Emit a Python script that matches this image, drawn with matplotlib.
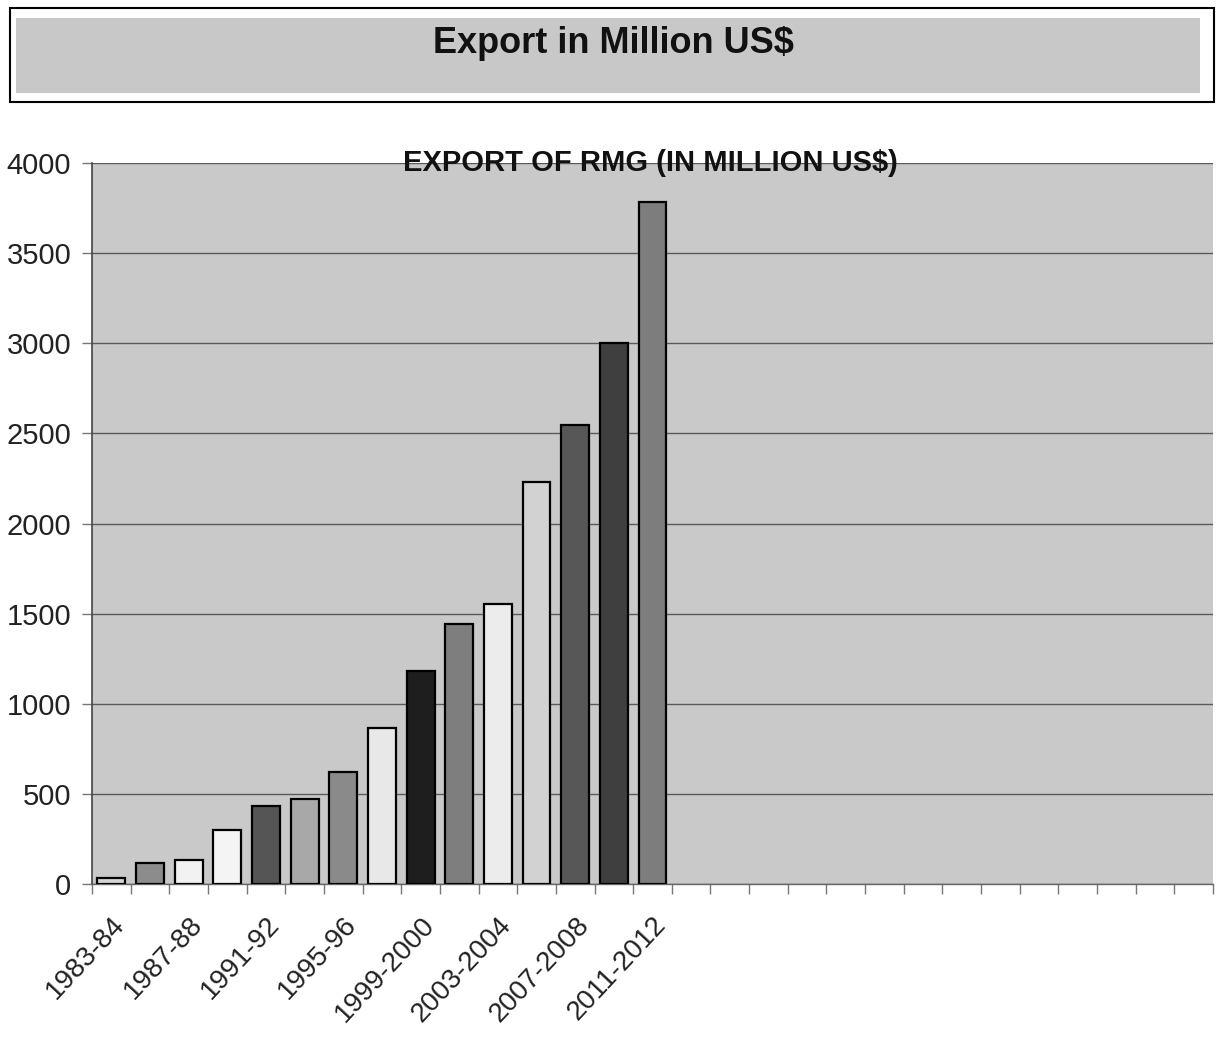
import numpy as np
from matplotlib import pyplot as plt
from matplotlib.patches import Rectangle

# RMG export, million US$
periods = ['1983-84', '1985-86', '1987-88', '1989-90', '1991-92', '1993-94',
           '1995-96', '1997-98', '1999-2000', '2001-2002', '2003-2004',
           '2005-2006', '2007-2008', '2009-2010', '2011-2012']
values = [32, 116, 131, 299, 434, 471, 624, 867, 1183, 1445, 1556, 2228, 2547, 3001, 3782]
bar_colors = ['#d6d6d6', '#8c8c8c', '#f2f2f2', '#f4f4f4', '#555555', '#a8a8a8',
              '#8a8a8a', '#e8e8e8', '#1e1e1e', '#7e7e7e', '#ececec', '#d2d2d2',
              '#575757', '#3f3f3f', '#7d7d7d']
n_slots = 29  # the category axis runs on past the data (empty slots)
yticks = list(range(0, 4001, 500))

plt.rcParams['font.family'] = ['Liberation Sans', 'DejaVu Sans']

fig = plt.figure(figsize=(12.24, 10.45), dpi=100)
fig.patch.set_facecolor('white')

# heading box
fig.patches.append(Rectangle((0.0082, 0.9024), 0.9837, 0.090, transform=fig.transFigure,
                             facecolor='white', edgecolor='black', linewidth=1.5))
fig.patches.append(Rectangle((0.0131, 0.911), 0.967, 0.0718, transform=fig.transFigure,
                             facecolor='#c8c8c8', edgecolor='none'))
fig.text(0.5008, 0.958, 'Export in Million US$', ha='center', va='center',
         fontsize=26, fontweight='bold', color='#111111')

ax = fig.add_axes([0.0752, 0.154, 0.9158, 0.690])
ax.set_facecolor('#c9c9c9')

x = np.arange(len(values))
ax.bar(x, values, width=0.72, color=bar_colors, edgecolor='black', linewidth=1.6, zorder=3)

ax.set_xlim(-0.5, n_slots - 0.5)
ax.set_ylim(0, 4000)
ax.set_yticks(yticks)
ax.yaxis.grid(True, color='#5a5a5a', linewidth=1.0, zorder=1)

ax.set_xticks(x[::2])
ax.set_xticklabels(periods[::2], rotation=47, ha='right', va='top', rotation_mode='anchor')
ax.set_xticks(np.arange(n_slots + 1) - 0.5, minor=True)
ax.tick_params(axis='x', which='major', length=0, pad=20, labelsize=20, labelcolor='#222222')
ax.tick_params(axis='x', which='minor', length=7, color='#777777', width=1)
ax.tick_params(axis='y', length=7, width=1, color='#777777', pad=8, labelsize=21,
               labelcolor='#222222')

for side in ['top', 'right']:
    ax.spines[side].set_visible(False)
ax.spines['left'].set_color('#444444')
ax.spines['left'].set_linewidth(1.2)
ax.spines['bottom'].set_color('#666666')
ax.spines['bottom'].set_linewidth(1.0)

ax.text(0.498, 1.0, 'EXPORT OF RMG (IN MILLION US$)', transform=ax.transAxes,
        ha='center', va='center', fontsize=21, fontweight='bold', color='#111111', zorder=5)

fig.savefig('out.png', dpi=100)
